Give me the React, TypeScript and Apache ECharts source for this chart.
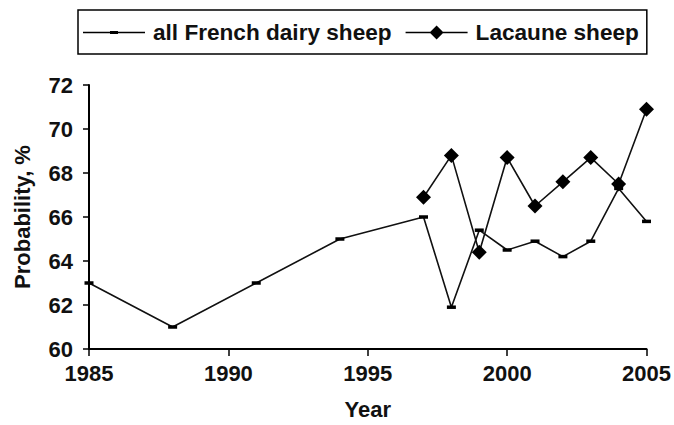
import React, { useEffect, useRef } from "react";
import * as echarts from "echarts";

const frenchYears = [1985, 1988, 1991, 1994, 1997, 1998, 1999, 2000, 2001, 2002, 2003, 2004, 2005];
const frenchValues = [63.0, 61.0, 63.0, 65.0, 66.0, 61.9, 65.4, 64.5, 64.9, 64.2, 64.9, 67.3, 65.8];
const lacauneYears = [1997, 1998, 1999, 2000, 2001, 2002, 2003, 2004, 2005];
const lacauneValues = [66.9, 68.8, 64.4, 68.7, 66.5, 67.6, 68.7, 67.5, 70.9];
const seriesNames = ["all French dairy sheep", "Lacaune sheep"];

const FONT = "'Liberation Sans', Arial, Helvetica, sans-serif";

// legend icons drawn in a 62x14 box: line + marker
const frenchIcon =
  "path://M0,0L0.01,0L0,0.01Z M62,14L61.99,14L62,13.99Z M0,6.25L27,6.25L27,5.5L35,5.5L35,6.25L62,6.25L62,7.75L35,7.75L35,8.5L27,8.5L27,7.75L0,7.75Z";
const lacauneIcon =
  "path://M0,0L0.01,0L0,0.01Z M62,14L61.99,14L62,13.99Z M0,6.25L24.75,6.25L31,0L37.25,6.25L62,6.25L62,7.75L37.25,7.75L31,14L24.75,7.75L0,7.75Z";

export default function App() {
  const ref = useRef<HTMLDivElement>(null);
  useEffect(() => {
    if (!ref.current) return;
    const chart = echarts.init(ref.current, null, { renderer: "svg" });
    const axisLine = { show: true, lineStyle: { color: "#000", width: 2 } };
    chart.setOption({
      animation: false,
      backgroundColor: "#fff",
      textStyle: { fontFamily: FONT },
      legend: {
        left: 78,
        top: 10,
        padding: [11, 8, 10, 5],
        borderColor: "#000",
        borderWidth: 1.5,
        itemWidth: 62,
        itemHeight: 14,
        itemGap: 14,
        itemStyle: { color: "#000", borderWidth: 0 },
        textStyle: { fontFamily: FONT, fontSize: 22.6, fontWeight: "bold", color: "#111", padding: [0, 0, 0, 3] },
        data: [
          { name: seriesNames[0], icon: frenchIcon },
          { name: seriesNames[1], icon: lacauneIcon },
        ],
      },
      grid: { left: 89, right: 27, top: 85, bottom: 67 },
      xAxis: {
        type: "value",
        min: 1985,
        max: 2005,
        interval: 5,
        name: "Year",
        nameLocation: "middle",
        nameGap: 49,
        nameTextStyle: { fontFamily: FONT, fontSize: 22, fontWeight: "bold", color: "#111" },
        axisLine,
        axisTick: { show: true, inside: false, length: 7, lineStyle: { color: "#000", width: 1.5 } },
        axisLabel: {
          margin: 13,
          fontFamily: FONT,
          fontSize: 22,
          fontWeight: "bold",
          color: "#111",
          formatter: (v: number) => String(v),
        },
        splitLine: { show: false },
      },
      yAxis: {
        type: "value",
        min: 60,
        max: 72,
        interval: 2,
        name: "Probability, %",
        nameLocation: "middle",
        nameRotate: 90,
        nameGap: 56,
        nameTextStyle: { fontFamily: FONT, fontSize: 22, fontWeight: "bold", color: "#111" },
        axisLine,
        axisTick: { show: true, inside: false, length: 6, lineStyle: { color: "#000", width: 1.5 } },
        axisLabel: { margin: 16, fontFamily: FONT, fontSize: 22, fontWeight: "bold", color: "#111" },
        splitLine: { show: false },
      },
      series: [
        {
          name: seriesNames[0],
          type: "line",
          data: frenchYears.map((y, i) => [y, frenchValues[i]]),
          symbol: "rect",
          symbolSize: [9, 3.5],
          showAllSymbol: true,
          lineStyle: { color: "#111", width: 1.6 },
          itemStyle: { color: "#000" },
          z: 3,
        },
        {
          name: seriesNames[1],
          type: "line",
          data: lacauneYears.map((y, i) => [y, lacauneValues[i]]),
          symbol: "diamond",
          symbolSize: 15,
          showAllSymbol: true,
          lineStyle: { color: "#111", width: 1.6 },
          itemStyle: { color: "#000" },
          z: 2,
        },
      ],
    });
    return () => chart.dispose();
  }, []);
  return <div ref={ref} style={{ width: 674, height: 425, position: "absolute", left: 0, top: 0 }} />;
}
